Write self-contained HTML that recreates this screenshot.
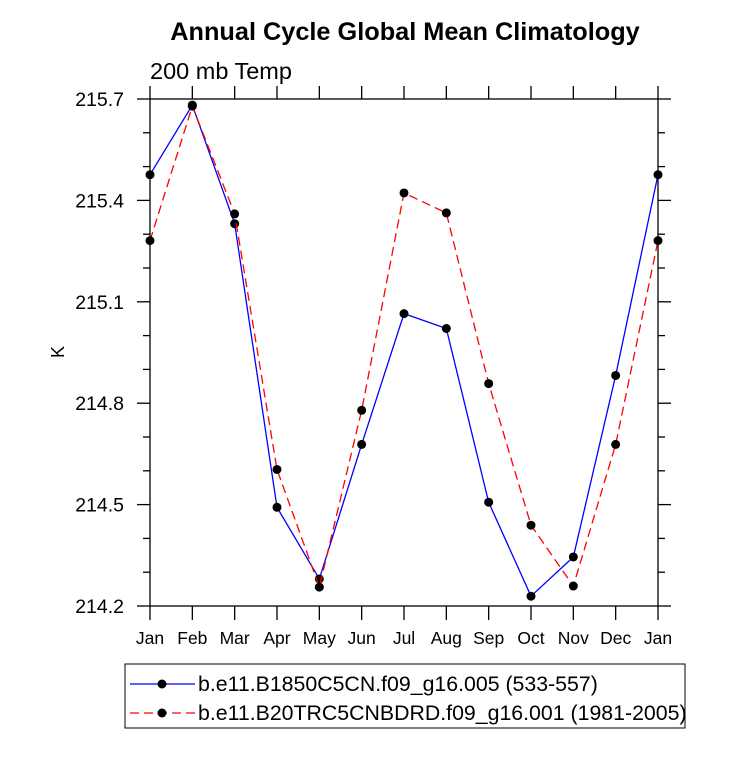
<!DOCTYPE html>
<html><head><meta charset="utf-8"><style>
body{margin:0;background:#fff;}
svg text{font-family:"Liberation Sans",Arial,sans-serif;}
</style></head><body>
<svg width="733" height="754" xmlns="http://www.w3.org/2000/svg">
<text x="405" y="40" font-size="25.3" font-weight="bold" text-anchor="middle">Annual Cycle Global Mean Climatology</text>
<text x="150" y="79" font-size="23.5">200 mb Temp</text>
<text transform="translate(64,352) rotate(-90)" font-size="18" text-anchor="middle">K</text>
<g id="axes"></g>
<g id="series"></g>
<g>
<rect x="125" y="664" width="560" height="64" fill="#fff" stroke="#000" stroke-width="1"/>
<g>
<line x1="130" y1="684" x2="195" y2="684" stroke="#0000ff" stroke-width="1.3"/>
<circle cx="162" cy="684" r="4.5" fill="#000"/>
<text x="198" y="691" font-size="21.3">b.e11.B1850C5CN.f09_g16.005 (533-557)</text>
</g>
<g>
<line x1="130" y1="713" x2="195" y2="713" stroke="#ff0000" stroke-width="1.3" stroke-dasharray="9,5"/>
<circle cx="162" cy="713" r="4.5" fill="#000"/>
<text x="198" y="720" font-size="21.3">b.e11.B20TRC5CNBDRD.f09_g16.001 (1981-2005)</text>
</g>
</g>
</svg>
<script>
const months=["Jan","Feb","Mar","Apr","May","Jun","Jul","Aug","Sep","Oct","Nov","Dec","Jan"];
const blueValues=[215.476,215.682,215.331,214.492,214.280,214.678,215.065,215.021,214.507,214.229,214.345,214.882,215.476];
const redValues=[215.281,215.679,215.360,214.604,214.256,214.779,215.422,215.363,214.858,214.439,214.259,214.678,215.281];
const yTicks=[214.2,214.5,214.8,215.1,215.4,215.7];
const yMin=214.2,yMax=215.7;
const L=150,R=658,T=99,B=606;
const NS="http://www.w3.org/2000/svg";
function xs(i){return L+(R-L)*i/(months.length-1);}
function ys(v){return B-(v-yMin)/(yMax-yMin)*(B-T);}
function mk(tag,attrs,parent){const e=document.createElementNS(NS,tag);for(const k in attrs)e.setAttribute(k,attrs[k]);parent.appendChild(e);return e;}
const ax=document.getElementById('axes');
const frame=mk('rect',{x:L,y:T,width:R-L,height:B-T,fill:'none',stroke:'#000','stroke-width':1.3},ax);


months.forEach((m,i)=>{
  const x=xs(i);
  mk('line',{x1:x,y1:B,x2:x,y2:B+14,stroke:'#000','stroke-width':1.3},ax);
  mk('line',{x1:x,y1:T,x2:x,y2:T-13,stroke:'#000','stroke-width':1.3},ax);
  const t=mk('text',{x:x,y:B+38,'font-size':17.5,'text-anchor':'middle'},ax);
  t.textContent=m;
  
  
});
for(let k=0;k<=15;k++){
  const v=yMin+k*0.1,y=ys(v),major=k%3===0;
  const len=major?13:7;
  mk('line',{x1:L,y1:y,x2:L-len,y2:y,stroke:'#000','stroke-width':1.3},ax);
  mk('line',{x1:R,y1:y,x2:R+len,y2:y,stroke:'#000','stroke-width':1.3},ax);
}
yTicks.forEach(v=>{
  const t=mk('text',{x:124,y:ys(v)+7,'font-size':19.5,'text-anchor':'end'},ax);
  t.textContent=v.toFixed(1);
  
  
});
const sg=document.getElementById('series');
function draw(vals,color,dash,name){
  const g=mk('g',{},sg);
  
  
  const pts=vals.map((v,i)=>xs(i)+','+ys(v)).join(' ');
  const pl=mk('polyline',{points:pts,fill:'none',stroke:color,'stroke-width':1.3,'stroke-dasharray':dash},g);
  
  
  vals.forEach((v,i)=>{
    const c=mk('circle',{cx:xs(i),cy:ys(v),r:4.5,fill:'#000'},g);
    
    
  });
}
draw(blueValues,'#0000ff','none','series-b1850');
draw(redValues,'#ff0000','9,5','series-b20trc');
</script>
</body></html>
